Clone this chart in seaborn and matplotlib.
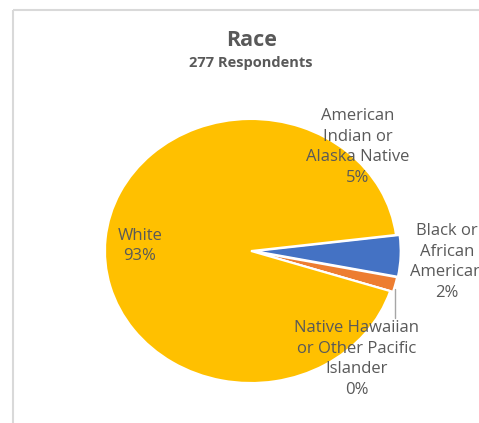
import matplotlib
matplotlib.use("Agg")
import matplotlib.pyplot as plt
import matplotlib.transforms as mtransforms
from matplotlib.patches import Rectangle
from matplotlib.lines import Line2D
import seaborn as sns

# Survey data: race of respondents (counts)
categories = [
    "American Indian or Alaska Native",
    "Black or African American",
    "Native Hawaiian or Other Pacific Islander",
    "White",
]
label_text = [
    "American\nIndian or\nAlaska Native",
    "Black or\nAfrican\nAmerican",
    "Native Hawaiian\nor Other Pacific\nIslander",
    "White",
]
counts = [14, 5, 0, 258]
colors = ["#4472C4", "#ED7D31", "#A5A5A5", "#FFC000"]
title = "Race"
subtitle = "277 Respondents"

sns.set_theme(style="white")
plt.rcParams["font.family"] = ["Open Sans", "DejaVu Sans"]

W, H = 479, 423
fig = plt.figure(figsize=(W / 100, H / 100), dpi=100)
fig.patch.set_facecolor("white")
ax = fig.add_axes([0, 0, 1, 1])

# pixel transform (origin top-left) for annotations
px = mtransforms.Affine2D().scale(1 / W, -1 / H).translate(0, 1) + fig.transFigure

wedges, _ = ax.pie(
    counts,
    colors=colors,
    startangle=7,
    counterclock=False,
    explode=[0.025, 0.02, 0.0, 0.0],
    wedgeprops=dict(edgecolor="white", linewidth=1.5),
)

# pie centre at (251, 251) px, radii 147 px horizontally, 132 px vertically
cx, cy, rx, ry = 251, 251, 146, 132
ax.set_aspect("auto")
ax.set_xlim(-cx / rx, (W - cx) / rx)
ax.set_ylim(-(H - cy) / ry, cy / ry)
ax.axis("off")

total = sum(counts)
label_pos = [(358, 147), (447, 262), (357, 359), (140, 246)]
txt_color = "#595959"
for lab, n, (x, y) in zip(label_text, counts, label_pos):
    ax.text(x, y, f"{lab}\n{round(100 * n / total)}%", transform=px,
            ha="center", va="center", fontsize=12, color=txt_color,
            linespacing=1.4)

# leader line for the zero-size slice
fig.add_artist(Line2D([395, 395], [289, 318], transform=px,
                      color="#A6A6A6", linewidth=1))

ax.text(252, 40, title, transform=px, ha="center", va="center",
        fontsize=15.5, fontweight="bold", color=txt_color)
ax.text(251, 63, subtitle, transform=px, ha="center", va="center",
        fontsize=10.5, fontweight="bold", color=txt_color)

# chart area border
fig.add_artist(Rectangle((13, 10), 600, 600, transform=px, fill=False,
                         edgecolor="#D9D9D9", linewidth=1.5))

fig.savefig("out.png", dpi=100)
